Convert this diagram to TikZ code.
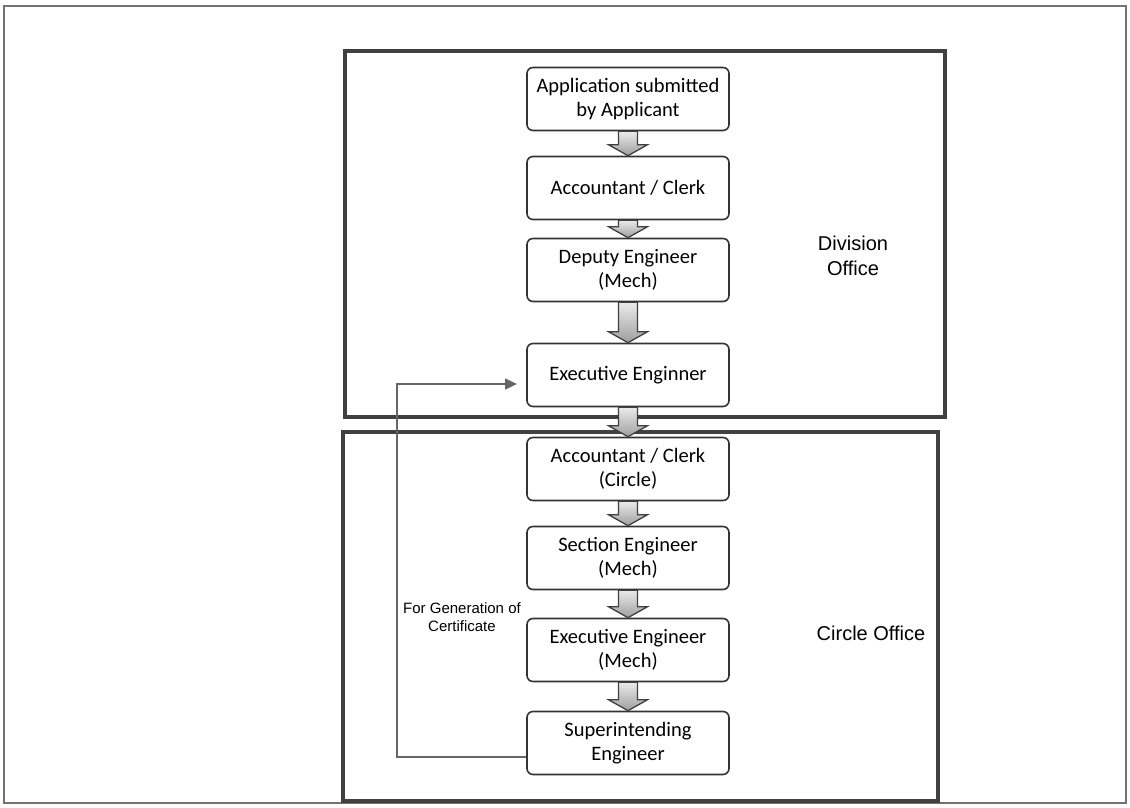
\documentclass[tikz,border=0pt]{standalone}
\usepackage{fontspec}
\setmainfont{Carlito}
\newfontfamily\arialf{Liberation Sans}
\usetikzlibrary{calc,arrows.meta}
\newcommand\blockarr[2]{%
  \path (#1.south) coordinate (ba1) (#2.north) coordinate (ba2);
  \shade[top color=black!8, bottom color=black!38, draw=black!75, line width=1.3pt, line join=miter]
    ($(ba1)+(-9.5,0)$) -- ($(ba2)+(-9.5,-11)$) -- ($(ba2)+(-19.5,-11)$) -- (ba2)
    -- ($(ba2)+(19.5,-11)$) -- ($(ba2)+(9.5,-11)$) -- ($(ba1)+(9.5,0)$) -- cycle;}
\begin{document}
\begin{tikzpicture}[x=1pt,y=-1pt,
  stepbox/.style={draw=black!80, line width=1.6pt, rounded corners=6pt, fill=white,
    minimum width=202pt, minimum height=63pt, align=center, inner sep=0pt,
    font=\fontsize{20.5}{24.5}\selectfont},
  office/.style={draw=black!75, line width=3.5pt},
  lbl/.style={font=\arialf\fontsize{20}{25}\selectfont, align=center},
  small/.style={font=\arialf\fontsize{15}{18}\selectfont, align=center},
  fb/.style={draw=black!60, line width=1.5pt, -{Triangle[length=12pt,width=11pt]}}
]
\useasboundingbox (0,0) rectangle (1130,808);
\draw[black!55, line width=1.2pt] (4,6) rectangle (1126,803);
\draw[office] (345,51) rectangle (945,417);
\draw[office] (343,432) rectangle (938,801);

\node[stepbox] (n1) at (628,99) {Application submitted\\by Applicant};
\node[stepbox] (n2) at (628,188) {Accountant / Clerk};
\node[stepbox] (n3) at (628,270) {Deputy Engineer\\(Mech)};
\node[stepbox] (n4) at (628,375) {Executive Enginner};
\node[stepbox] (n5) at (628,469) {Accountant / Clerk\\(Circle)};
\node[stepbox] (n6) at (628,558) {Section Engineer\\(Mech)};
\node[stepbox] (n7) at (628,650) {Executive Engineer\\(Mech)};
\node[stepbox] (n8) at (628,743) {Superintending\\Engineer};

\blockarr{n1}{n2}
\blockarr{n2}{n3}
\blockarr{n3}{n4}
\blockarr{n4}{n5}
\blockarr{n5}{n6}
\blockarr{n6}{n7}
\blockarr{n7}{n8}

\node[lbl] (div) at (853,256) {Division\\Office};
\node[lbl] (cir) at (871,633) {Circle Office};
\node[small] (gen) at (462,617) {For Generation of\\Certificate};

\coordinate (fbend) at (517,384);
\coordinate (fbx) at (397,384);
\draw[fb] ($(n8.west)+(0,14)$) -| (fbx) -- (fbend);
\end{tikzpicture}
\end{document}
